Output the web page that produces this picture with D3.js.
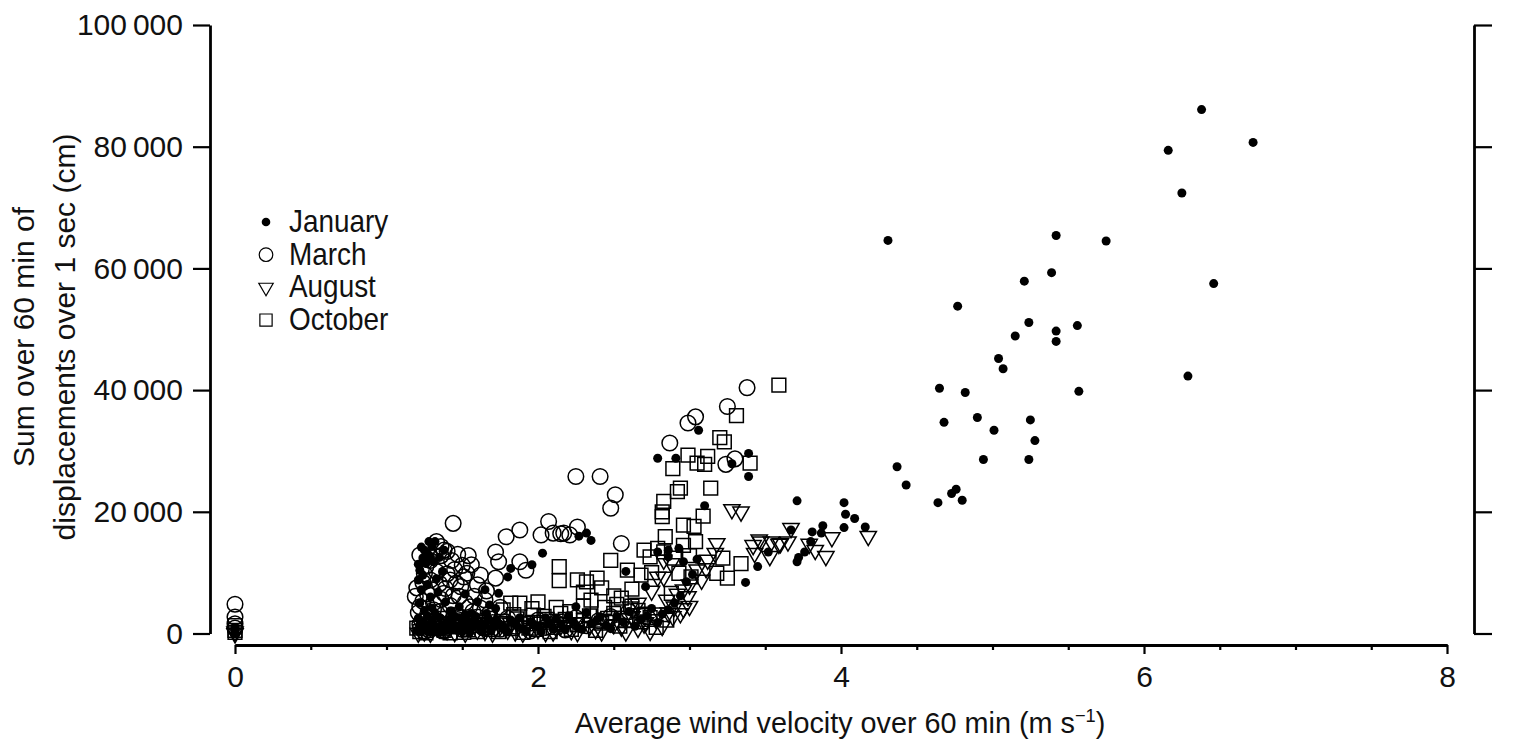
<!DOCTYPE html>
<html>
<head>
	<meta charset="utf-8">
	<title>Wind velocity vs displacement</title>
	<script src="https://d3js.org/d3.v7.min.js"></script>
	<style>
		body { margin: 0; background: #fff; }
		text { font-family: 'Liberation Sans Narrow', 'Arial Narrow', 'Liberation Sans', sans-serif; fill: #111; }
	</style>
</head>
<body>
	<div class="chart"></div>

	<script type="text/javascript">

		// [wind velocity (m/s), sum of displacements (cm)]
		const january = [
			[6.38, 86100], [6.72, 80700], [6.16, 79400], [6.25, 72400], [4.31, 64600], [5.42, 65400], [5.75, 64500],
			[6.46, 57500], [5.39, 59300], [5.21, 57900], [4.77, 53800], [5.24, 51100], [5.42, 49700], [5.42, 48000],
			[5.56, 50600], [5.15, 48900], [5.04, 45200], [5.07, 43500], [6.29, 42300], [4.65, 40300], [4.82, 39600],
			[5.57, 39800], [4.68, 34700], [4.90, 35500], [5.25, 35100], [5.01, 33400], [5.28, 31700], [4.94, 28600],
			[5.24, 28600], [4.37, 27400], [4.43, 24400], [4.76, 23700], [4.73, 23000], [4.80, 21900], [4.64, 21500],
			[3.71, 21800], [4.02, 21500], [4.03, 19600], [4.09, 18900], [4.02, 17400], [4.16, 17500], [3.88, 17700],
			[3.81, 16700], [3.87, 16500], [3.80, 15100], [3.76, 13400], [3.72, 12500], [3.71, 11800], [3.67, 17000],
			[3.52, 13400], [3.45, 11000], [3.37, 8400],
			[3.06, 33400], [2.79, 28800], [2.91, 28800], [3.39, 29600], [3.28, 27900], [3.39, 25800], [3.10, 21000],
			[2.79, 13400], [2.86, 13700], [2.93, 14000], [2.86, 12600], [3.05, 12200], [2.96, 11800], [2.58, 10200],
			[2.71, 7700], [2.25, 4400],
			[2.27, 16000], [2.32, 16500], [2.35, 15300], [2.03, 13200], [1.96, 11300], [1.82, 10700], [1.80, 9300],
			[1.65, 7200], [1.74, 6600], [1.68, 4700], [1.72, 4100], [1.60, 5200], [1.45, 2800],
			[1.28, 15100], [1.32, 15100], [1.25, 13700], [1.30, 14300], [1.24, 12400], [1.27, 13200], [1.38, 13700],
			[1.37, 10200], [1.21, 8800], [1.23, 7200], [1.22, 10400], [1.26, 11500], [1.35, 12500], [1.24, 9600],
			[1.29, 6000], [1.22, 5000],
			[1.23, 14200], [1.29, 12600], [1.31, 11800], [1.33, 9000], [1.27, 8000], [1.21, 11400], [1.34, 6800],
			[1.30, 4200], [1.25, 3800], [1.39, 5200], [1.43, 3700], [1.48, 4400], [1.52, 6500], [1.56, 3300],
			[1.20, 500], [1.22, 1500], [1.25, 800], [1.28, 200], [1.30, 2200], [1.33, 1000], [1.36, 400], [1.40, 1800],
			[1.43, 700], [1.46, 1200], [1.50, 300], [1.53, 2000], [1.56, 900], [1.60, 1500], [1.63, 400], [1.67, 2500],
			[1.70, 1000], [1.74, 1700], [1.78, 600], [1.82, 2200], [1.86, 1300], [1.90, 800], [1.95, 1900], [2.00, 1100],
			[2.05, 2600], [2.10, 700], [2.15, 1500], [2.20, 2900], [2.26, 1000], [2.32, 3400], [2.38, 2000], [2.45, 1300],
			[2.52, 2800], [2.60, 3600], [2.68, 2300], [2.75, 4100], [2.82, 3200], [2.90, 5000],
			[1.21, 2500], [1.23, 300], [1.24, 1900], [1.26, 1200], [1.27, 2900], [1.29, 600], [1.31, 1600], [1.32, 3400],
			[1.34, 200], [1.35, 2600], [1.37, 1300], [1.39, 500], [1.41, 2300], [1.42, 3700], [1.44, 1500], [1.47, 600],
			[1.48, 2600], [1.51, 1100], [1.52, 3100], [1.55, 200], [1.57, 1700], [1.59, 2800], [1.62, 800], [1.65, 1300],
			[1.66, 3300], [1.69, 400], [1.72, 2200], [1.76, 1100], [1.80, 300], [1.84, 1700], [1.88, 2600], [1.92, 500],
			[1.97, 1400], [2.02, 300], [2.07, 1800], [2.12, 2400], [2.18, 600], [2.23, 1900], [2.29, 700], [2.35, 1600],
			[2.41, 2700], [2.48, 800], [2.56, 1900], [2.64, 1200], [2.72, 2900], [2.79, 1800], [2.86, 3900], [2.94, 6200],
			[2.98, 8500], [3.02, 9700],
			[0, 100], [0, 500], [0, 900]
		]

		const march = [
			[3.38, 40400], [3.25, 37300], [3.04, 35600], [2.99, 34600], [2.87, 31300], [3.30, 28700], [3.24, 27800],
			[2.25, 25800], [2.41, 25800], [2.51, 22800], [2.48, 20600], [1.44, 18100], [2.55, 14800], [2.07, 18400],
			[2.26, 17500], [1.88, 17000], [1.79, 15900], [2.02, 16200], [2.10, 16500], [2.17, 16500], [2.21, 16200],
			[2.15, 16400], [1.72, 13400], [1.74, 11800], [1.88, 11800], [1.92, 10400], [1.72, 9100], [1.56, 11300],
			[1.51, 9300], [1.38, 13700], [1.33, 15100], [1.40, 13500], [1.36, 12800],
			[1.22, 12900], [1.26, 11000], [1.29, 8800], [1.42, 8800], [1.38, 6600], [1.48, 6100], [1.19, 6100],
			[1.22, 4400], [1.31, 5000], [1.55, 4400], [1.58, 6100], [1.60, 8000], [1.49, 7700], [1.25, 9800],
			[1.33, 10200], [1.45, 10500], [1.50, 11200], [1.20, 7500], [1.27, 3000], [1.35, 3600], [1.42, 4600],
			[1.65, 5500], [1.30, 7200], [1.40, 9800],
			[1.21, 3400], [1.24, 5300], [1.27, 6500], [1.31, 3900], [1.36, 5600], [1.39, 7400], [1.44, 6200],
			[1.46, 3000], [1.52, 5100], [1.57, 3600], [1.62, 4200], [1.68, 3300], [1.75, 4300], [1.24, 8400],
			[1.35, 8200], [1.46, 8300], [1.53, 9900], [1.62, 9600], [1.66, 7000], [1.29, 12000], [1.43, 12000],
			[1.47, 13000], [1.54, 12800], [1.36, 14300],
			[1.22, 1500], [1.28, 600], [1.34, 2000], [1.40, 1000], [1.47, 2300], [1.54, 1500], [1.60, 2700],
			[1.70, 1800], [1.80, 2500], [1.90, 1500], [2.00, 2200], [2.12, 1800], [2.25, 2600], [2.40, 2100],
			[1.25, 300], [1.31, 1100], [1.37, 400], [1.43, 1700], [1.50, 700], [1.57, 2000], [1.64, 900], [1.75, 700],
			[1.85, 1200], [1.95, 400], [2.05, 1000], [2.18, 600], [2.32, 1300], [2.48, 2800], [2.60, 3600],
			[0, 4800], [0, 2700], [0, 1600], [0, 900]
		]

		const august = [
			[3.28, 20400], [3.34, 20000], [3.67, 17300], [3.65, 15100], [3.59, 14700], [3.47, 15100], [3.53, 12700],
			[3.79, 14700], [3.83, 13700], [3.90, 12700], [3.94, 15800], [4.18, 16000], [3.46, 15400], [3.54, 15100],
			[3.42, 14500], [3.60, 14800], [3.43, 13200], [3.18, 14800], [3.17, 13200], [3.12, 12100], [3.11, 10700],
			[2.83, 12100], [2.88, 11500], [2.79, 9300], [2.83, 9300], [2.96, 7200], [2.99, 6100], [2.90, 4400],
			[2.96, 4100], [2.80, 3400], [2.86, 3400], [2.61, 4400], [2.66, 5000], [2.71, 1800],
			[1.25, 300], [1.35, 800], [1.45, 200], [1.55, 1000], [1.65, 400], [1.75, 1200], [1.85, 300], [1.95, 900],
			[2.05, 200], [2.15, 1300], [2.22, 500], [2.30, 1800], [2.38, 700], [2.46, 2200], [2.55, 1100], [2.62, 2800],
			[2.70, 1600], [2.78, 2300], [2.85, 5500], [2.92, 6500], [3.00, 8000], [3.05, 10500], [2.75, 7000],
			[1.21, 100], [1.23, 1300], [1.29, 100], [1.31, 1600], [1.40, 500], [1.42, 1900], [1.50, 800], [1.52, 100],
			[1.60, 600], [1.62, 1800], [1.70, 100], [1.72, 900], [1.80, 600], [1.82, 1700], [1.90, 100], [1.92, 1300],
			[2.00, 700], [2.02, 1900], [2.10, 300], [2.12, 1000], [2.19, 1800], [2.26, 200], [2.34, 1200], [2.42, 300],
			[2.50, 1500], [2.58, 300], [2.66, 900], [2.74, 400], [2.82, 1200], [2.89, 2800], [2.94, 3300], [3.00, 4500],
			[2.68, 3300], [2.57, 2500], [3.08, 8800],
			[0, 300], [0, 0]
		]

		const october = [
			[3.59, 40800], [3.31, 35800], [3.20, 32200], [3.23, 31500], [2.99, 29300], [3.12, 29100], [3.05, 28000],
			[3.10, 27800], [2.89, 27100], [3.40, 28000], [2.94, 23900], [2.92, 23300], [3.14, 23900], [2.83, 21700],
			[2.82, 20000], [2.82, 19200], [3.09, 19300], [2.96, 17800], [3.03, 17600], [2.84, 15900], [3.04, 15100],
			[2.48, 12000], [2.14, 11000], [2.14, 8700], [2.70, 13700], [2.79, 14000], [2.83, 13400], [2.59, 10400],
			[2.68, 9600], [3.22, 12400], [3.34, 11500], [3.25, 9100], [3.18, 9900], [2.93, 9900], [2.88, 6600],
			[3.01, 9300], [2.26, 8800], [2.32, 8500], [2.39, 9100], [2.42, 7500], [2.30, 6800], [2.35, 5500],
			[2.50, 6200], [2.68, 1900], [1.82, 5000], [1.88, 5000], [1.77, 3900], [1.97, 3000], [2.04, 2800],
			[2.15, 3300], [2.21, 3600], [2.55, 5800], [2.62, 7300], [2.75, 10000], [2.90, 12400], [3.00, 12800],
			[2.96, 14500], [2.74, 12600],
			[1.22, 300], [1.30, 1200], [1.38, 500], [1.46, 1500], [1.54, 600], [1.62, 1900], [1.70, 700], [1.78, 1400],
			[1.86, 2400], [1.94, 900], [2.02, 1800], [2.10, 1000], [2.18, 2300], [2.26, 1400], [2.34, 2900], [2.42, 1700],
			[2.50, 3300], [2.58, 2100], [2.66, 3800], [2.74, 2600],
			[1.20, 900], [1.26, 100], [1.27, 2100], [1.34, 800], [1.35, 2500], [1.42, 100], [1.43, 1100], [1.50, 2000],
			[1.51, 200], [1.58, 1300], [1.60, 300], [1.66, 1000], [1.68, 2500], [1.74, 300], [1.76, 2000], [1.82, 800],
			[1.84, 3100], [1.90, 200], [1.92, 1600], [1.99, 700], [2.06, 2300], [2.08, 300], [2.14, 1500], [2.22, 700],
			[2.30, 2100], [2.38, 500], [2.46, 2500], [2.54, 1200], [2.62, 4500], [2.70, 3200], [2.78, 1000], [2.85, 2200],
			[2.44, 4300], [2.52, 4800], [2.30, 4500], [2.12, 4300], [1.96, 4100], [2.00, 5200],
			[0, 1300], [0, 500], [0, 200]
		]

		const xMajorTicks = [0, 2, 4, 6, 8]
		const xMinorTicks = [0.5, 1, 1.5, 2.5, 3, 3.5, 4.5, 5, 5.5, 6.5, 7, 7.5]
		const yTicks = [0, 20000, 40000, 60000, 80000, 100000]
		const legendNames = ['January', 'March', 'August', 'October']

		var width = 1514
		var height = 754

		var svg = d3
			.select('.chart')
			.append('svg')
			.attr('width', width)
			.attr('height', height)

		// 比例尺
		const x = d3.scaleLinear().domain([0, 8]).range([235, 1447])
		const y = d3.scaleLinear().domain([0, 100000]).range([633.5, 25])

		const locale = d3.formatLocale({ decimal: '.', thousands: '\u2009', grouping: [3], currency: ['', ''] })
		const fmt = locale.format(',d')

		/**
		 * 坐标轴
		 */
		const styleAxis = (g, w) => {
			g.select('.domain').attr('stroke', '#000').attr('stroke-width', w)
			g.selectAll('.tick line').attr('stroke', '#000').attr('stroke-width', 2.2)
			g.selectAll('.tick text').style('font-size', '30px').attr('fill', '#111')
		}

		svg.append('g')
			.attr('transform', 'translate(0, 645)')
			.call(d3.axisBottom(x).tickValues(xMinorTicks).tickSize(5).tickSizeOuter(0).tickFormat(''))
			.call(g => styleAxis(g, 2.8))

		svg.append('g')
			.attr('transform', 'translate(0, 645)')
			.call(d3.axisBottom(x).tickValues(xMajorTicks).tickSize(9).tickSizeOuter(0).tickPadding(12).tickFormat(d3.format('d')))
			.call(g => styleAxis(g, 2.8))

		svg.append('g')
			.attr('transform', 'translate(210, 0)')
			.call(d3.axisLeft(y).tickValues(yTicks).tickSize(17).tickSizeOuter(0).tickPadding(10).tickFormat(fmt))
			.call(g => styleAxis(g, 2.8))

		svg.append('g')
			.attr('transform', 'translate(1474, 0)')
			.call(d3.axisRight(y).tickValues(yTicks).tickSize(18).tickSizeOuter(0).tickFormat(''))
			.call(g => styleAxis(g, 2.8))

		// 坐标轴标题
		const xTitle = svg.append('text')
			.attr('transform', 'translate(840, 733) scale(0.96, 1)')
			.attr('text-anchor', 'middle')
			.style('font-size', '30px')
		xTitle.append('tspan').text('Average wind velocity over 60 min (m s')
		xTitle.append('tspan').attr('dy', -11).style('font-size', '19px').text('\u22121')
		xTitle.append('tspan').attr('dy', 11).text(')')

		const yTitle = svg.append('text')
			.attr('transform', 'translate(0, 337) rotate(-90)')
			.attr('text-anchor', 'middle')
			.style('font-size', '30px')
		yTitle.append('tspan').attr('x', 0).attr('y', 34).text('Sum over 60 min of')
		yTitle.append('tspan').attr('x', 0).attr('y', 75).text('displacements over 1 sec (cm)')

		/**
		 * 散点
		 */
		const plot = svg.append('g')
		const triangle = d3.symbol().type(d3.symbolTriangle).size(115)
		const square = d3.symbol().type(d3.symbolSquare).size(190)

		plot.append('g')
			.selectAll('circle')
			.data(march)
			.join('circle')
			.attr('cx', d => x(d[0]))
			.attr('cy', d => y(d[1]))
			.attr('r', 7.8)
			.attr('fill', 'none')
			.attr('stroke', '#000')
			.attr('stroke-width', 1.5)

		plot.append('g')
			.selectAll('path')
			.data(august)
			.join('path')
			.attr('d', triangle)
			.attr('transform', d => `translate(${x(d[0])}, ${y(d[1])}) rotate(180)`)
			.attr('fill', 'none')
			.attr('stroke', '#000')
			.attr('stroke-width', 1.5)

		plot.append('g')
			.selectAll('path')
			.data(october)
			.join('path')
			.attr('d', square)
			.attr('transform', d => `translate(${x(d[0])}, ${y(d[1])})`)
			.attr('fill', 'none')
			.attr('stroke', '#000')
			.attr('stroke-width', 1.5)

		plot.append('g')
			.selectAll('circle')
			.data(january)
			.join('circle')
			.attr('cx', d => x(d[0]))
			.attr('cy', d => y(d[1]))
			.attr('r', 4.5)
			.attr('fill', '#000')

		/**
		 * 图例
		 */
		const legend = svg.append('g').attr('transform', 'translate(266, 222)')
		const rowH = 32.7

		legend.append('circle').attr('cx', 0).attr('cy', 0).attr('r', 4.3).attr('fill', '#000')
		legend.append('circle').attr('cx', 0).attr('cy', rowH).attr('r', 6.8)
			.attr('fill', 'none').attr('stroke', '#000').attr('stroke-width', 1.2)
		legend.append('path').attr('d', d3.symbol().type(d3.symbolTriangle).size(90))
			.attr('transform', `translate(0, ${rowH * 2}) rotate(180)`)
			.attr('fill', 'none').attr('stroke', '#000').attr('stroke-width', 1.2)
		legend.append('path').attr('d', d3.symbol().type(d3.symbolSquare).size(150))
			.attr('transform', `translate(0, ${rowH * 3})`)
			.attr('fill', 'none').attr('stroke', '#000').attr('stroke-width', 1.2)

		legend.selectAll('.label')
			.data(legendNames)
			.join('text')
			.attr('class', 'label')
			.attr('transform', (d, i) => `translate(23, ${i * rowH + 10}) scale(0.9, 1)`)
			.style('font-size', '31px')
			.text(d => d)

	</script>
</body>
</html>
